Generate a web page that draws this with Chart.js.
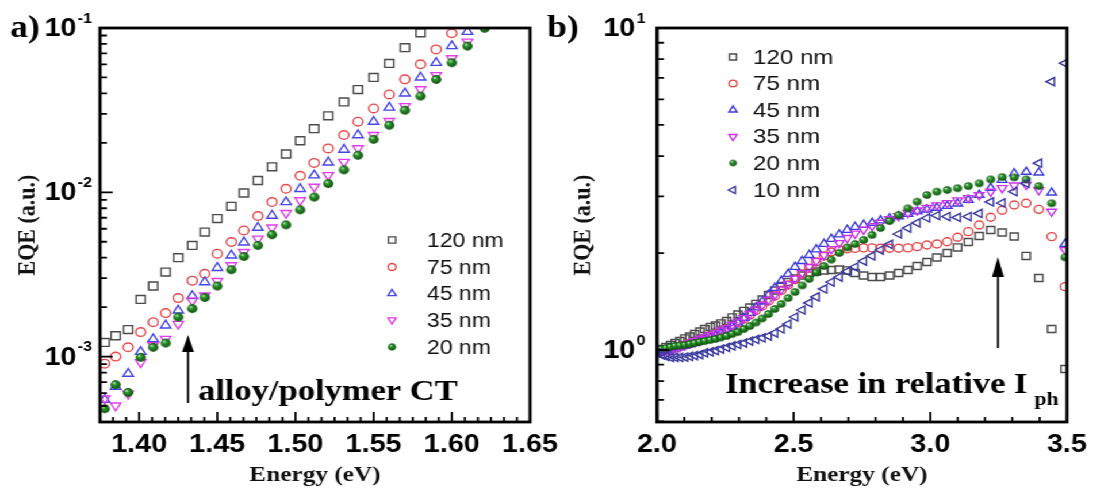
<!DOCTYPE html>
<html>
<head>
<meta charset="utf-8">
<script src="https://cdn.jsdelivr.net/npm/chart.js@4.4.1/dist/chart.umd.min.js"></script>
<style>
  html, body { margin: 0; padding: 0; background: #fff; overflow: hidden; }
  /* the source figure is stretched sideways, so the two charts are too */
  #wrap { position: absolute; left: 0; top: 0; width: 951px; height: 490px; transform: scaleX(1.15); transform-origin: 0 0; }
  #chartA { position: absolute; left: 0; top: 0; }
  #chartB { position: absolute; left: 470px; top: 0; }
</style>
</head>
<body>
<div id="wrap">
  <canvas id="chartA" width="500" height="490"></canvas>
  <canvas id="chartB" width="481" height="490"></canvas>
</div>
<script>
// ---- panel a data (energy in eV, EQE in a.u.) ----
const energyA = [1.378, 1.385, 1.393, 1.401, 1.409, 1.417, 1.425, 1.434, 1.442, 1.450,
  1.459, 1.467, 1.476, 1.485, 1.494, 1.503, 1.512, 1.521, 1.531, 1.540,
  1.550, 1.560, 1.570, 1.580, 1.590, 1.600, 1.610, 1.621];
const eqeA120 = [1.22e-3, 1.34e-3, 1.46e-3, 2.23e-3, 2.69e-3, 3.27e-3, 4.0e-3, 4.75e-3, 5.73e-3, 6.92e-3,
  8.22e-3, 9.9e-3, 1.18e-2, 1.43e-2, 1.71e-2, 2.06e-2, 2.44e-2, 2.92e-2, 3.55e-2, 4.22e-2,
  5.0e-2, 6.09e-2, 7.59e-2, 9.36e-2, null, null, null, null];
const eqeA75 = [9.06e-4, 1.0e-3, 1.14e-3, 1.41e-3, 1.62e-3, 1.84e-3, 2.27e-3, 2.90e-3, 3.19e-3, 4.23e-3,
  4.98e-3, 5.86e-3, 7.17e-3, 8.72e-3, 1.05e-2, 1.26e-2, 1.51e-2, 1.85e-2, 2.23e-2, 2.69e-2,
  3.24e-2, 3.94e-2, 4.87e-2, 6.01e-2, 7.41e-2, 9.28e-2, null, null];
const eqeA45 = [5.47e-4, 6.56e-4, 7.87e-4, 1.07e-3, 1.28e-3, 1.55e-3, 1.91e-3, 2.34e-3, 2.84e-3, 3.47e-3,
  4.13e-3, 4.96e-3, 6.09e-3, 7.21e-3, 8.73e-3, 1.05e-2, 1.27e-2, 1.52e-2, 1.82e-2, 2.23e-2,
  2.69e-2, 3.28e-2, 4.0e-2, 5.0e-2, 6.14e-2, 7.77e-2, 9.49e-2, null];
const eqeA35 = [5.55e-4, 5.03e-4, 5.94e-4, 9.23e-4, 1.17e-3, 1.28e-3, 1.58e-3, 2.19e-3, 2.35e-3, 2.88e-3,
  3.59e-3, 4.33e-3, 5.22e-3, 6.10e-3, 7.48e-3, 8.93e-3, 1.08e-2, 1.27e-2, 1.53e-2, 1.85e-2,
  2.23e-2, 2.71e-2, 3.34e-2, 4.23e-2, 5.16e-2, 6.53e-2, 8.25e-2, null];
const eqeA20 = [4.82e-4, 6.75e-4, 6.05e-4, 9.9e-4, 1.14e-3, 1.21e-3, 1.74e-3, 1.96e-3, 2.29e-3, 2.69e-3,
  3.38e-3, 4.07e-3, 4.75e-3, 5.52e-3, 6.34e-3, 7.82e-3, 9.35e-3, 1.13e-2, 1.37e-2, 1.68e-2,
  2.10e-2, 2.56e-2, 3.16e-2, 3.85e-2, 4.86e-2, 6.15e-2, 7.76e-2, 9.96e-2];
const labelsA = ['120 nm', '75 nm', '45 nm', '35 nm', '20 nm'];

// ---- panel b data ----
const energyB = [2.000, 2.016, 2.033, 2.050, 2.067, 2.084, 2.102, 2.120, 2.138, 2.157,
  2.175, 2.195, 2.214, 2.234, 2.255, 2.275, 2.296, 2.318, 2.340, 2.362,
  2.385, 2.408, 2.431, 2.455, 2.480, 2.505, 2.531, 2.557, 2.583, 2.611,
  2.638, 2.667, 2.696, 2.725, 2.756, 2.787, 2.818, 2.851, 2.884, 2.918,
  2.952, 2.988, 3.024, 3.062, 3.100, 3.139, 3.179, 3.221, 3.263, 3.307,
  3.351, 3.397, 3.444, 3.493];
const eqeB120 = [1.000, 1.007, 1.022, 1.036, 1.051, 1.066, 1.086, 1.101, 1.121, 1.141,
  1.162, 1.179, 1.191, 1.209, 1.230, 1.262, 1.289, 1.322, 1.355, 1.390,
  1.435, 1.482, 1.530, 1.580, 1.626, 1.667, 1.703, 1.734, 1.753, 1.766,
  1.772, 1.778, 1.766, 1.734, 1.703, 1.685, 1.685, 1.703, 1.734, 1.772,
  1.823, 1.876, 1.938, 2.001, 2.082, 2.165, 2.259, 2.359, 2.317, 2.251,
  1.959, 1.673, 1.162, 0.873];
const eqeB75 = [0.986, 0.993, 1.000, 1.007, 1.014, 1.025, 1.036, 1.047, 1.059, 1.074,
  1.090, 1.105, 1.121, 1.141, 1.162, 1.187, 1.213, 1.248, 1.284, 1.326,
  1.370, 1.420, 1.471, 1.530, 1.592, 1.655, 1.722, 1.792, 1.876, 1.959,
  2.016, 2.046, 2.060, 2.068, 2.075, 2.075, 2.071, 2.071, 2.071, 2.075,
  2.094, 2.119, 2.134, 2.169, 2.239, 2.331, 2.445, 2.583, 2.717, 2.820,
  2.855, 2.734, 2.249, 1.573];
const eqeB45 = [0.986, 0.993, 1.000, 1.004, 1.011, 1.018, 1.029, 1.040, 1.051, 1.066,
  1.078, 1.093, 1.109, 1.129, 1.154, 1.183, 1.217, 1.257, 1.303, 1.355,
  1.414, 1.482, 1.558, 1.638, 1.722, 1.811, 1.889, 1.972, 2.052, 2.134,
  2.212, 2.284, 2.359, 2.410, 2.445, 2.481, 2.524, 2.562, 2.600, 2.644,
  2.693, 2.730, 2.764, 2.801, 2.850, 2.923, 3.029, 3.185, 3.372, 3.536,
  3.574, 3.555, 3.081, 2.134];
const eqeB35 = [0.979, 0.986, 0.993, 1.000, 1.011, 1.022, 1.036, 1.051, 1.066, 1.082,
  1.097, 1.113, 1.129, 1.150, 1.170, 1.196, 1.222, 1.257, 1.294, 1.336,
  1.380, 1.430, 1.482, 1.541, 1.603, 1.667, 1.734, 1.811, 1.889, 1.972,
  2.059, 2.149, 2.228, 2.300, 2.366, 2.426, 2.486, 2.550, 2.606, 2.664,
  2.713, 2.764, 2.815, 2.861, 2.917, 2.964, 3.029, 3.102, 3.185, 3.244,
  3.256, 3.140, 2.689, 2.044];
const eqeB20 = [1.000, 1.007, 1.014, 1.022, 1.029, 1.033, 1.036, 1.044, 1.051, 1.059,
  1.066, 1.074, 1.082, 1.093, 1.105, 1.121, 1.137, 1.162, 1.187, 1.217,
  1.253, 1.294, 1.341, 1.390, 1.450, 1.514, 1.586, 1.662, 1.740, 1.823,
  1.909, 2.001, 2.082, 2.134, 2.197, 2.277, 2.392, 2.515, 2.624, 2.753,
  2.889, 3.029, 3.102, 3.140, 3.180, 3.229, 3.293, 3.387, 3.443, 3.436,
  3.387, 3.229, 2.855, 1.940];
const eqeB10 = [0.979, 0.965, 0.955, 0.948, 0.948, 0.948, 0.951, 0.955, 0.961, 0.968,
  0.979, 0.986, 0.996, 1.007, 1.018, 1.029, 1.040, 1.051, 1.066, 1.078,
  1.090, 1.105, 1.129, 1.162, 1.204, 1.266, 1.331, 1.400, 1.461, 1.547,
  1.626, 1.685, 1.753, 1.810, 1.889, 1.959, 2.044, 2.127, 2.292, 2.392,
  2.480, 2.570, 2.616, 2.597, 2.580, 2.597, 2.655, 2.882, 2.861, 3.102,
  3.291, 3.803, 6.811, 7.775];
const labelsB = ['120 nm', '75 nm', '45 nm', '35 nm', '20 nm', '10 nm'];

// ---- ticks ----
const xMajorA = [1.40, 1.45, 1.50, 1.55, 1.60, 1.65];
const xMajorB = [2.0, 2.5, 3.0, 3.5];
const yExpA = [-3, -2, -1];
const yExpB = [0, 1];

Chart.defaults.font.family = "'Liberation Sans', Arial, sans-serif";
Chart.defaults.color = '#000';

const SERIF = "'Liberation Serif', 'Times New Roman', serif";
const SANS = "'Liberation Sans', Arial, sans-serif";

// shaded green ball used for the 20 nm points
function ball(r) {
  const c = document.createElement('canvas');
  const d = Math.ceil(2 * r + 2);
  c.width = c.height = d;
  const g = c.getContext('2d');
  const m = d / 2;
  const grad = g.createRadialGradient(m - r * 0.35, m - r * 0.4, r * 0.05, m, m, r);
  grad.addColorStop(0, '#d8f5d8');
  grad.addColorStop(0.3, '#2f9f2f');
  grad.addColorStop(1, '#0a4a0a');
  g.fillStyle = grad;
  g.beginPath();
  g.arc(m, m, r, 0, Math.PI * 2);
  g.fill();
  return c;
}

const looksA = [
  { style: 'rect', r: 5.6, color: '#4a4a4a' },
  { style: 'circle', r: 4.3, color: '#e8474a' },
  { style: 'triangle', r: 5.2, color: '#4545e6' },
  { style: 'triangle', rot: 180, r: 5.2, color: '#e03ee6' },
  { style: ball(4.4), r: 4.4, color: '#1b7d1b' }
];
const looksB = [
  { style: 'rect', r: 5.0, color: '#4a4a4a' },
  { style: 'circle', r: 4.0, color: '#e8474a' },
  { style: 'triangle', r: 4.8, color: '#3c3cdc' },
  { style: 'triangle', rot: 180, r: 4.8, color: '#c834e8' },
  { style: ball(3.8), r: 3.8, color: '#1b7d1b' },
  { style: 'triangle', rot: 270, r: 4.8, color: '#3a3a9e' }
];

function makeSets(energy, series, labels, looks) {
  return series.map((vals, i) => ({
    label: labels[i],
    data: energy.map((x, k) => ({ x: x, y: vals[k] })).filter(p => p.y !== null),
    showLine: false,
    pointStyle: looks[i].style,
    pointRotation: looks[i].rot || 0,
    pointRadius: looks[i].r,
    pointHoverRadius: looks[i].r,
    pointBorderColor: looks[i].color,
    pointBackgroundColor: 'rgba(0,0,0,0)',
    pointBorderWidth: 1.4,
    order: series.length - i,
    clip: 1
  }));
}

function drawMark(ctx, ds, x, y, r) {
  const st = ds.pointStyle;
  ctx.save();
  ctx.translate(x, y);
  if (typeof st !== 'string') {
    const w = st.width * r / ds.pointRadius;
    ctx.drawImage(st, -w / 2, -w / 2, w, w);
    ctx.restore();
    return;
  }
  ctx.rotate((ds.pointRotation || 0) * Math.PI / 180);
  ctx.strokeStyle = ds.pointBorderColor;
  ctx.lineWidth = ds.pointBorderWidth;
  ctx.beginPath();
  if (st === 'rect') {
    const h = r * Math.SQRT1_2;
    ctx.rect(-h, -h, 2 * h, 2 * h);
  } else if (st === 'circle') {
    ctx.arc(0, 0, r, 0, Math.PI * 2);
  } else {
    for (let k = 0; k < 3; k++) {
      const a = -Math.PI / 2 + k * 2 * Math.PI / 3;
      const px = r * Math.cos(a), py = r * Math.sin(a);
      if (k === 0) ctx.moveTo(px, py); else ctx.lineTo(px, py);
    }
    ctx.closePath();
  }
  ctx.stroke();
  ctx.restore();
}

// inward ticks, frame, 10^n labels, legend and notes
function makeFrame(cfg) {
  return {
    id: 'frame',
    afterDraw(chart) {
      const ctx = chart.ctx, a = chart.chartArea;
      const xs = chart.scales.x, ys = chart.scales.y;
      ctx.save();
      ctx.strokeStyle = '#000';
      ctx.lineWidth = 1.8;
      ctx.beginPath();
      cfg.xMinor.forEach(v => {
        const p = xs.getPixelForValue(v);
        ctx.moveTo(p, a.bottom); ctx.lineTo(p, a.bottom - 5);
      });
      cfg.xMajor.forEach(v => {
        const p = xs.getPixelForValue(v);
        ctx.moveTo(p, a.bottom); ctx.lineTo(p, a.bottom - 10);
      });
      cfg.yMinor.forEach(v => {
        const p = ys.getPixelForValue(v);
        ctx.moveTo(a.left, p); ctx.lineTo(a.left + 6, p);
      });
      cfg.yExp.forEach(e => {
        const p = ys.getPixelForValue(Math.pow(10, e));
        ctx.moveTo(a.left, p); ctx.lineTo(a.left + 11, p);
      });
      ctx.stroke();
      ctx.lineWidth = 2.8;
      ctx.strokeRect(a.left, a.top, a.right - a.left, a.bottom - a.top);

      // y labels 10^n
      ctx.fillStyle = '#000';
      ctx.textBaseline = 'middle';
      ctx.textAlign = 'right';
      cfg.yExp.forEach(e => {
        const p = ys.getPixelForValue(Math.pow(10, e));
        const right = a.left - cfg.yGap;
        ctx.font = 'bold 14px ' + SANS;
        const sup = String(e);
        const sw = ctx.measureText(sup).width;
        ctx.fillText(sup, right, p - 9);
        ctx.font = 'bold 25px ' + SANS;
        ctx.fillText('10', right - sw - 1, p + 1);
      });

      // legend
      ctx.textAlign = 'left';
      ctx.font = cfg.legFont + 'px ' + SANS;
      ctx.fillStyle = '#111';
      chart.data.datasets.forEach((ds, i) => {
        const y = cfg.legY[i];
        drawMark(ctx, ds, cfg.legMarkX, y, ds.pointRadius * cfg.legScale);
        ctx.fillText(ds.label, cfg.legTextX, y + 1);
      });

      // panel tag
      ctx.fillStyle = '#000';
      ctx.textBaseline = 'alphabetic';
      ctx.font = 'bold 31px ' + SERIF;
      ctx.fillText(cfg.tag, cfg.tagX, 37);

      // note with arrow
      const n = cfg.note;
      ctx.font = 'bold 30px ' + SERIF;
      ctx.fillText(n.text, n.x, n.y);
      if (n.sub) {
        const w = ctx.measureText(n.text).width;
        ctx.font = 'bold 19px ' + SERIF;
        ctx.fillText(n.sub, n.x + w + 6, n.y + 12);
      }
      ctx.lineWidth = 1.8;
      ctx.beginPath();
      ctx.moveTo(n.ax, n.ay0);
      ctx.lineTo(n.ax, n.ayBase);
      ctx.stroke();
      ctx.beginPath();
      ctx.moveTo(n.ax, n.ayTip);
      ctx.lineTo(n.ax - 5.2, n.ayBase);
      ctx.lineTo(n.ax + 5.2, n.ayBase);
      ctx.closePath();
      ctx.fill();
      ctx.restore();
    }
  };
}

function minorLinear(start, end, step, majors) {
  const out = [];
  for (let v = start; v <= end + 1e-9; v += step) {
    if (!majors.some(m => Math.abs(m - v) < step / 10)) out.push(v);
  }
  return out;
}
function minorLog(lo, hi, eFrom, eTo) {
  const out = [];
  for (let e = eFrom; e <= eTo; e++) {
    for (let m = 2; m <= 9; m++) {
      const v = m * Math.pow(10, e);
      if (v >= lo * 0.999 && v <= hi * 1.001) out.push(v);
    }
  }
  return out;
}

function baseOptions(o) {
  return {
    responsive: false,
    animation: false,
    events: [],
    layout: { padding: { left: 0, top: 28, right: o.padRight, bottom: 0 } },
    plugins: { legend: { display: false }, tooltip: { enabled: false } },
    scales: {
      x: {
        type: 'linear', min: o.xMin, max: o.xMax,
        afterBuildTicks: s => { s.ticks = o.xMajor.map(v => ({ value: v })); },
        afterFit: s => { s.height = 68; s.paddingLeft = 0; s.paddingRight = 0; },
        grid: { display: false, drawTicks: false },
        border: { display: false },
        ticks: {
          font: { size: 25, weight: 'bold' }, color: '#000', padding: 8,
          maxRotation: 0, autoSkip: false, callback: v => v.toFixed(o.xDigits)
        },
        title: {
          display: true, text: 'Energy (eV)', color: '#111',
          font: { family: SERIF, size: 22, weight: 'bold' }, padding: { top: 0, bottom: 1 }
        }
      },
      y: {
        type: 'logarithmic', min: o.yMin, max: o.yMax,
        afterFit: s => { s.width = o.yWidth; s.paddingTop = 0; s.paddingBottom = 0; },
        grid: { display: false, drawTicks: false },
        border: { display: false },
        ticks: { display: false },
        title: {
          display: true, text: 'EQE (a.u.)', color: '#111',
          font: { family: SERIF, size: 22, weight: 'bold' }, padding: { top: o.yTitlePad, bottom: 0 }
        }
      }
    }
  };
}

// ---- panel a ----
new Chart(document.getElementById('chartA'), {
  type: 'scatter',
  data: { datasets: makeSets(energyA, [eqeA120, eqeA75, eqeA45, eqeA35, eqeA20], labelsA, looksA) },
  options: baseOptions({
    padRight: 39.1, xMin: 1.375, xMax: 1.65, xMajor: xMajorA, xDigits: 2,
    yMin: 4e-4, yMax: 0.1, yWidth: 86.96, yTitlePad: 11.2
  }),
  plugins: [makeFrame({
    xMajor: xMajorA, xMinor: minorLinear(1.375, 1.65, 0.05 / 6, xMajorA),
    yExp: yExpA, yMinor: minorLog(4e-4, 0.1, -4, -2), yGap: 7,
    legMarkX: 340.9, legTextX: 371.3, legY: [240, 267, 293.5, 320, 347], legScale: 0.8, legFont: 20,
    tag: 'a)', tagX: 8.7,
    note: { text: 'alloy/polymer CT', x: 172.2, y: 400, ax: 163.5, ay0: 403, ayBase: 352, ayTip: 335 }
  })]
});

// ---- panel b ----
new Chart(document.getElementById('chartB'), {
  type: 'scatter',
  data: { datasets: makeSets(energyB, [eqeB120, eqeB75, eqeB45, eqeB35, eqeB20, eqeB10], labelsB, looksB) },
  options: baseOptions({
    padRight: 23.2, xMin: 2.0, xMax: 3.5, xMajor: xMajorB, xDigits: 1,
    yMin: 0.5975, yMax: 10, yWidth: 101.3, yTitlePad: 23.8
  }),
  plugins: [makeFrame({
    xMajor: xMajorB, xMinor: minorLinear(2.0, 3.5, 0.1, xMajorB),
    yExp: yExpB, yMinor: minorLog(0.5975, 10, -1, 0), yGap: 10,
    legMarkX: 167.4, legTextX: 184.8, legY: [57, 83.5, 110, 136.5, 163, 190], legScale: 0.85, legFont: 21,
    tag: 'b)', tagX: 5.7,
    note: { text: 'Increase in relative I', sub: 'ph', x: 160.4, y: 392.5, ax: 397.8, ay0: 348, ayBase: 277, ayTip: 257 }
  })]
});
</script>
</body>
</html>
